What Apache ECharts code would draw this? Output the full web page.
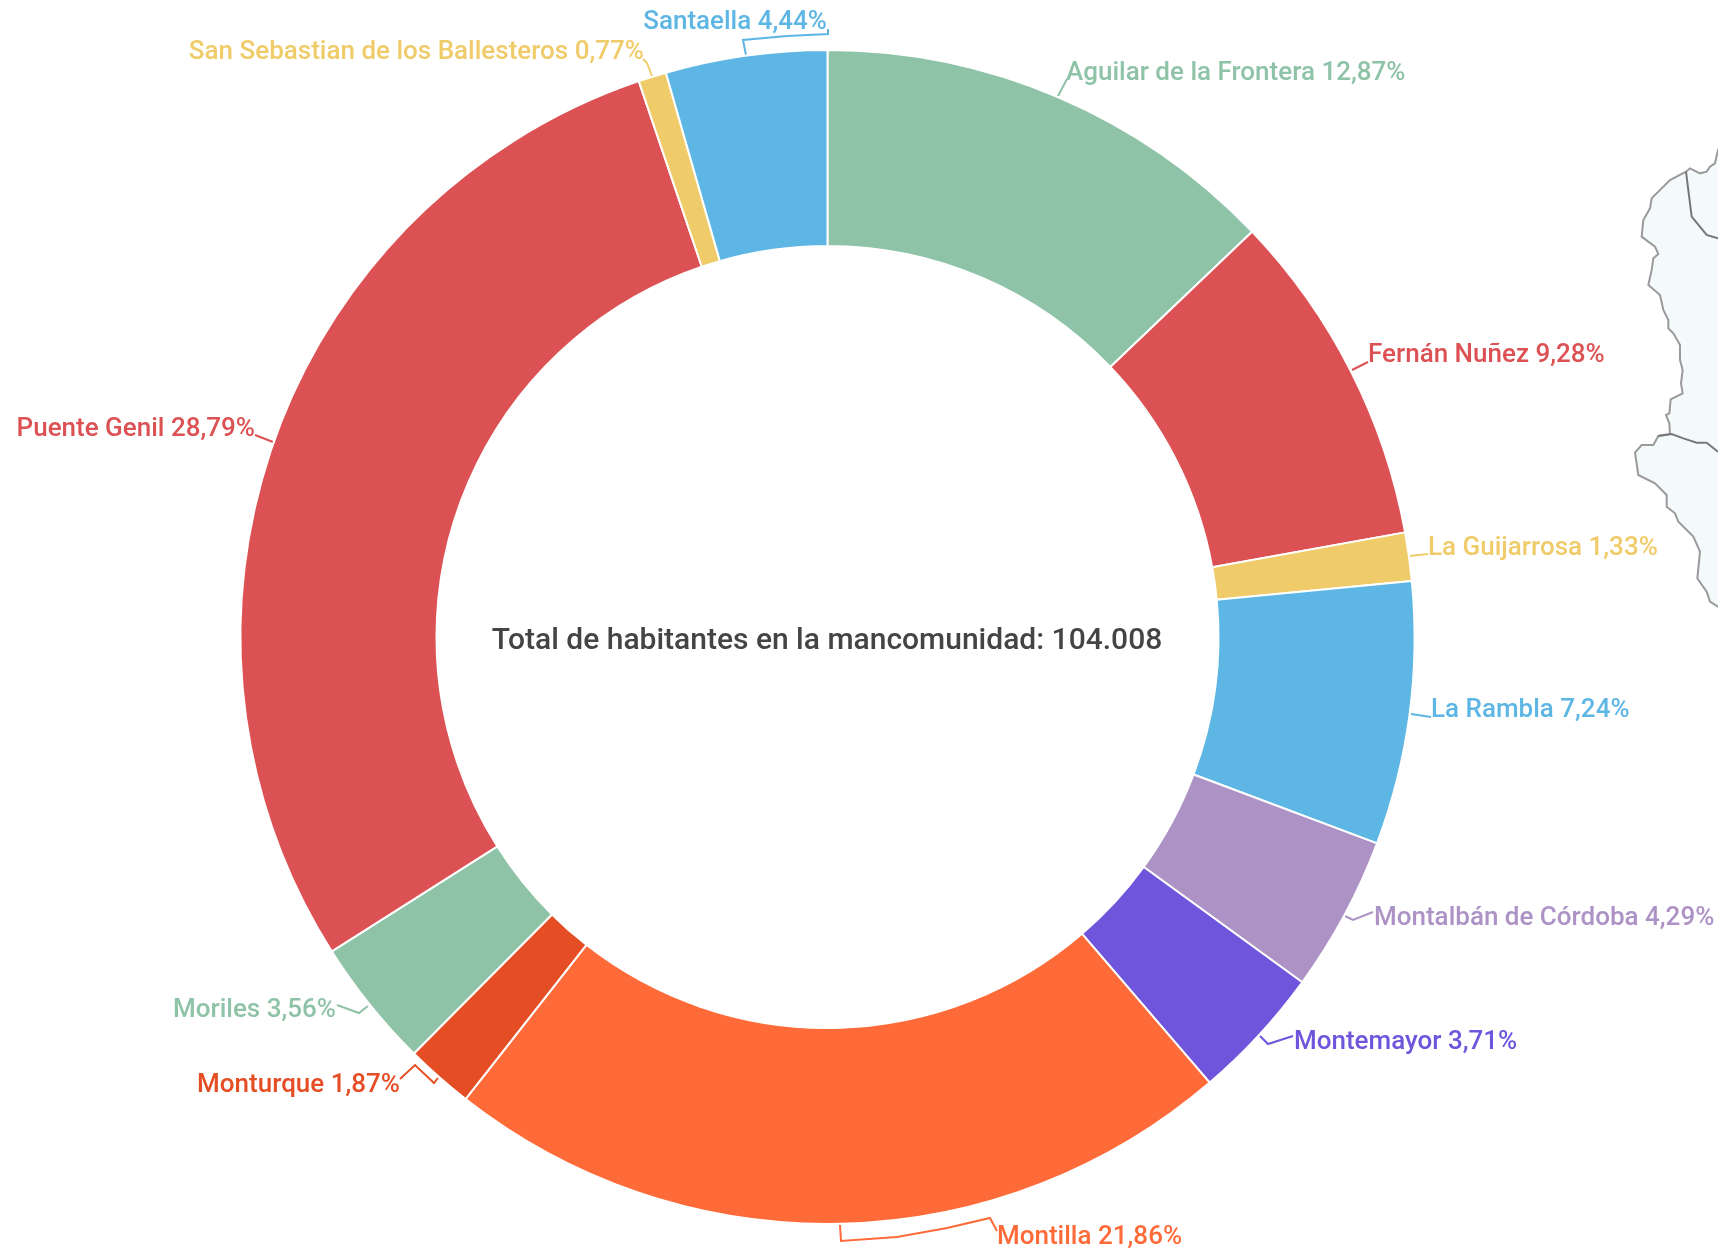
<!DOCTYPE html>
<html><head><meta charset="utf-8">
<script src="https://cdn.jsdelivr.net/npm/echarts@6/dist/echarts.min.js"></script>
<style>html,body{margin:0;padding:0;background:#fff}#c{width:1718px;height:1251px}</style>
</head><body><div id="c"></div>
<script>
const names = ['Aguilar de la Frontera','Fernán Nuñez','La Guijarrosa','La Rambla','Montalbán de Córdoba','Montemayor','Montilla','Monturque','Moriles','Puente Genil','San Sebastian de los Ballesteros','Santaella'];
const shares = [12.87,9.28,1.33,7.24,4.29,3.71,21.86,1.87,3.56,28.79,0.77,4.44];
const colors = ['#8FC3A7','#DC5254','#F0CB69','#5EB6E5','#AD92C6','#6E55DC','#FF6A39','#E54E24','#8FC3A7','#DC5254','#F0CB69','#5EB6E5'];
const centerText = 'Total de habitantes en la mancomunidad: 104.008';

// label placement: [x, centre y, align]
const labelPlaces = [[1066,73,'left'],[1368,355,'left'],[1428,548,'left'],[1431,710,'left'],[1374,918,'left'],[1294,1042,'left'],[997,1237,'left'],[400,1085,'right'],[336,1010,'right'],[255,429,'right'],[644,52,'right'],[827,22,'right']];
const leaderLines = [
 [[1058,96],[1067,79]],
 [[1352,370],[1368,362]],
 [[1410,556],[1428,554]],
 [[1411,714],[1431,717]],
 [[1345,916],[1353,920],[1373,912]],
 [[1260,1036],[1268,1044],[1293,1036]],
 [[840,1225],[841,1241],[897,1237],[947,1228],[990,1218],[997,1231]],
 [[438,1078],[434,1083],[415,1065],[400,1079]],
 [[368,1006],[359,1013],[337,1005]],
 [[273,442],[255,435]],
 [[652,76],[647,63],[643,59]],
 [[746,55],[743,40],[787,36],[828,34],[828,29]]
];

// background map fragment at the right edge (crop coords, 3x, from 1600,130)
const mapOutline = [[420,60],[354,60],[345,100],[330,110],[320,125],[300,130],[270,115],[258,125],[210,150],[185,175],[155,205],[150,235],[130,270],[125,320],[165,350],[175,372],[160,385],[155,420],[145,465],[180,495],[190,540],[205,570],[205,595],[220,610],[240,645],[240,690],[248,720],[243,760],[248,790],[212,808],[208,850],[198,855],[208,880],[210,912],[175,918],[160,945],[125,945],[105,968],[115,1035],[165,1060],[200,1095],[200,1130],[225,1150],[235,1175],[280,1220],[300,1265],[292,1345],[320,1385],[330,1415],[354,1430],[420,1430]];
const mapBorderA = [[258,125],[275,260],[320,315],[354,325]];
const mapBorderB = [[175,918],[215,912],[250,925],[290,938],[320,938],[354,965]];
const toPx = pts => pts.map(p => [1600 + p[0] / 3, 130 + p[1] / 3]);

const chart = echarts.init(document.getElementById('c'), null, {renderer:'canvas'});
chart.setOption({
  backgroundColor:'#fff',
  animation:false,
  title:{text:centerText,left:822,top:621,textAlign:'center',textStyle:{fontFamily:'Roboto',fontWeight:500,fontSize:30,color:'#444444'}},
  graphic:[
    {type:'polygon',z:0,shape:{points:toPx(mapOutline)},style:{fill:'#F4FAFB',stroke:'#9A9A9A',lineWidth:2}},
    {type:'polyline',z:0,shape:{points:toPx(mapBorderA)},style:{fill:null,stroke:'#777777',lineWidth:2}},
    {type:'polyline',z:0,shape:{points:toPx(mapBorderB)},style:{fill:null,stroke:'#777777',lineWidth:2}}
  ],
  series:[{
    type:'pie',
    center:[827.5,637],
    radius:[391,587],
    startAngle:90,
    clockwise:true,
    avoidLabelOverlap:false,
    silent:true,
    data:names.map((n,i)=>({name:n,value:shares[i],itemStyle:{color:colors[i]}})),
    itemStyle:{borderColor:'#fff',borderWidth:2},
    label:{show:true,position:'outside',color:'inherit',fontFamily:'Roboto',fontWeight:500,fontSize:26,
      formatter:p=>p.name+' '+p.value.toFixed(2).replace('.',',')+'%'},
    labelLine:{show:true,smooth:false,lineStyle:{width:2}},
    labelLayout:p=>({
      x:labelPlaces[p.dataIndex][0],
      y:labelPlaces[p.dataIndex][1],
      align:labelPlaces[p.dataIndex][2],
      verticalAlign:'middle',
      labelLinePoints:leaderLines[p.dataIndex]
    })
  }]
});
</script></body></html>
